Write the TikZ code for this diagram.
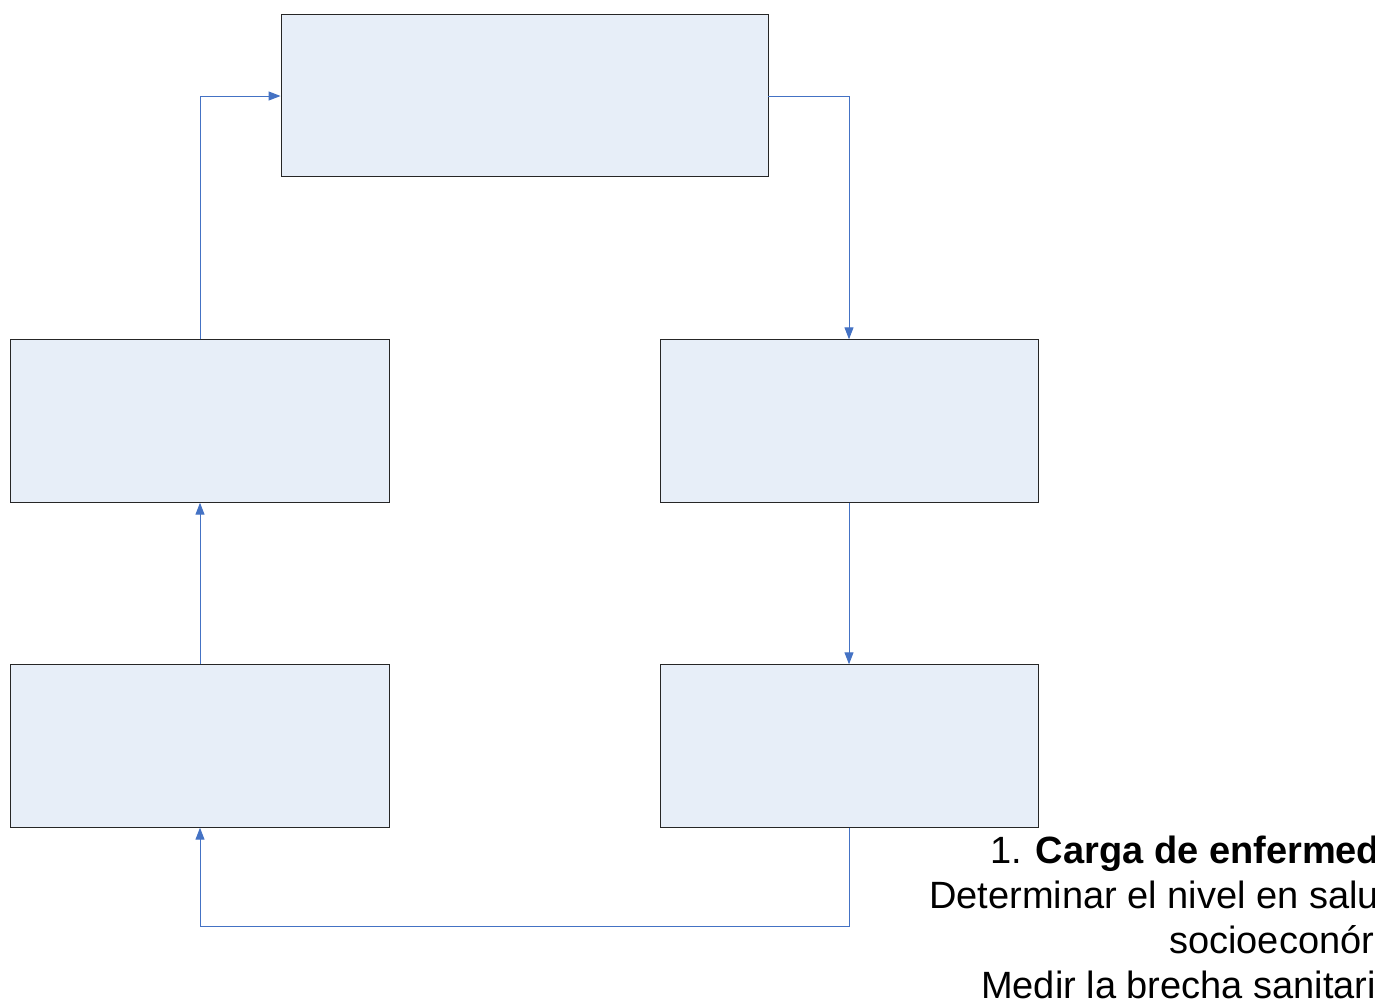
\documentclass[tikz,border=0pt]{standalone}
\usepackage{fontspec}
\setmainfont{Liberation Sans}
\usetikzlibrary{arrows.meta}
\definecolor{boxfill}{HTML}{E7EEF8}
\definecolor{linkblue}{HTML}{4472C4}
\begin{document}
\begin{tikzpicture}[x=1pt,y=-1pt,
  stepbox/.style={draw=black!85, line width=0.9pt, fill=boxfill, rectangle, inner sep=0pt, minimum height=162.5pt},
  link/.style={draw=linkblue, line width=1pt, -{Triangle[length=12pt,width=9pt]}},
  txt/.style={anchor=base west, inner sep=0pt, font=\fontsize{38}{45}\selectfont}]
\useasboundingbox (0,0) rectangle (1375,1005);
\clip (0,0) rectangle (1375,1005);
\node[stepbox, minimum width=487pt] (top) at (524.5,95.5) {};
\node[stepbox, minimum width=379pt] (lm) at (199.5,421) {};
\node[stepbox, minimum width=378pt] (rm) at (849,421) {};
\node[stepbox, minimum width=379pt] (lb) at (199.5,746) {};
\node[stepbox, minimum width=378pt] (rb) at (849,746) {};
\coordinate (c1) at (200,96);
\coordinate (c2) at (849,96);
\coordinate (c3) at (849,926);
\coordinate (c4) at (200,926);
\draw[link] (lb.north -| c1) -- (lm.south -| c1);
\draw[link] (lm.north -| c1) -- (c1) -- (top.west |- c1);
\draw[link] (top.east |- c2) -- (c2) -- (rm.north -| c2);
\draw[link] (rm.south -| c2) -- (rb.north -| c2);
\draw[link] (rb.south -| c3) -- (c3) -- (c4) -- (lb.south -| c4);
\node[txt] (t1) at (990,863) {1. \textbf{Carga de enfermed}};
\node[txt] (t2) at (929,908) {Determinar el nivel en salu};
\node[txt] (t3) at (1169,953) {socioeconór};
\node[txt] (t4) at (981,998) {Medir la brecha sanitari};
\end{tikzpicture}
\end{document}
